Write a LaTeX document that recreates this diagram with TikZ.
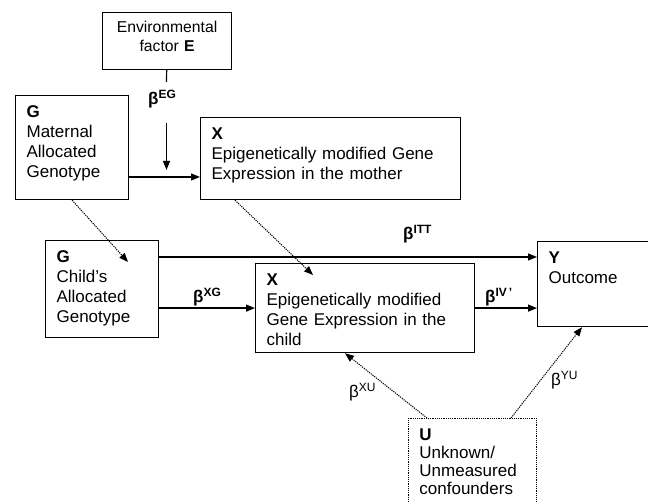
\documentclass[tikz,border=0pt]{standalone}
\usepackage{fontspec}
\setmainfont{Liberation Sans}
\usetikzlibrary{arrows.meta}

\newcommand{\sups}[1]{\raisebox{6pt}{\fontsize{12}{13}\selectfont #1}}
\newcommand{\bcoef}[1]{\textbf{β\sups{#1}}}
\newcommand{\coef}[1]{β\sups{#1}}

\begin{document}
\begin{tikzpicture}[x=1pt, y=-1pt,
	every node/.style={font=\fontsize{17}{20}\selectfont},
	box/.style={draw, line width=1.2pt, anchor=north west, align=left, inner xsep=11pt, inner ysep=0pt, text height=22pt},
	dotbox/.style={box, densely dotted, line width=0.9pt},
	coef/.style={anchor=base west, inner sep=0pt},
	arr/.style={-{Triangle[length=9pt, width=7pt]}, line width=1.2pt},
	dotarr/.style={arr, densely dotted, line width=1pt}]
	\useasboundingbox (0,0) rectangle (648,502);
	\clip (0,0) rectangle (648,502);

	% boxes
	\node[box, align=center, font=\fontsize{15.7}{19}\selectfont, text width=107pt, text height=20pt, text depth=37pt] (E)  at (102,12)  {Environmental\\factor \textbf{E}};
	\node[box, text width=91pt,  text depth=82pt] (Gm) at (15,95)   {\textbf{G}\\Maternal\\Allocated\\Genotype};
	\node[box, text width=238pt, text depth=60pt] (Xm) at (200,117) {\textbf{X}\\Epigenetically modified Gene\\Expression in the mother};
	\node[box, text width=91pt,  text depth=75pt] (Gc) at (45,240)  {\textbf{G}\\Child’s\\Allocated\\Genotype};
	\node[box, text width=197pt, text depth=67pt] (Xc) at (255,263) {\textbf{X}\\Epigenetically modified\\Gene Expression in the\\child};
	\node[box, text width=100pt, text depth=63pt] (Y)  at (537,241) {\textbf{Y}\\Outcome};
	\node[dotbox, font=\fontsize{17}{18}\selectfont, text width=106pt, text depth=75pt] (U) at (408,418) {\textbf{U}\\Unknown/\\Unmeasured\\confounders};

	% coefficients
	\node[coef] (bEG)  at (148,105) {\bcoef{EG}};
	\node[coef] (bITT) at (403,240) {\bcoef{ITT}};
	\node[coef] (bXG)  at (193,303) {\bcoef{XG}};
	\node[coef] (bIV)  at (485,303) {\bcoef{IV\,'}};
	\node[coef] (bXU)  at (349,398) {\coef{XU}};
	\node[coef] (bYU)  at (551,386) {\coef{YU}};

	\coordinate (egtop) at (166.5,82);
	\coordinate (egbot) at (166.5,123);
	\coordinate (gx)    at (166.5,177);
	\coordinate (gcin)  at (128,262);
	\coordinate (xcin)  at (313,275);

	% connectors
	\path [-, line width=1.2pt] (E) edge (egtop);
	\path [arr] (egbot) edge ([yshift=7pt]gx);
	\path [arr] (Gm.east |- gx) edge (Xm.west |- gx);
	\path [dotarr] (Gm.south) edge (gcin);
	\path [dotarr] ([xshift=35pt]Xm.south west) edge (xcin);
	\path [arr] ([yshift=-17pt]Gc.north east) edge ([yshift=-16pt]Y.north west);
	\path [arr] (Gc.east |- Xc) edge (Xc);
	\path [arr] (Xc) edge (Y.west |- Xc);
	\path [dotarr] ([xshift=19pt]U.north west) edge ([xshift=90pt]Xc.south west);
	\path [dotarr] ([xshift=103pt]U.north west) edge ([xshift=45pt]Y.south west);
\end{tikzpicture}
\end{document}
